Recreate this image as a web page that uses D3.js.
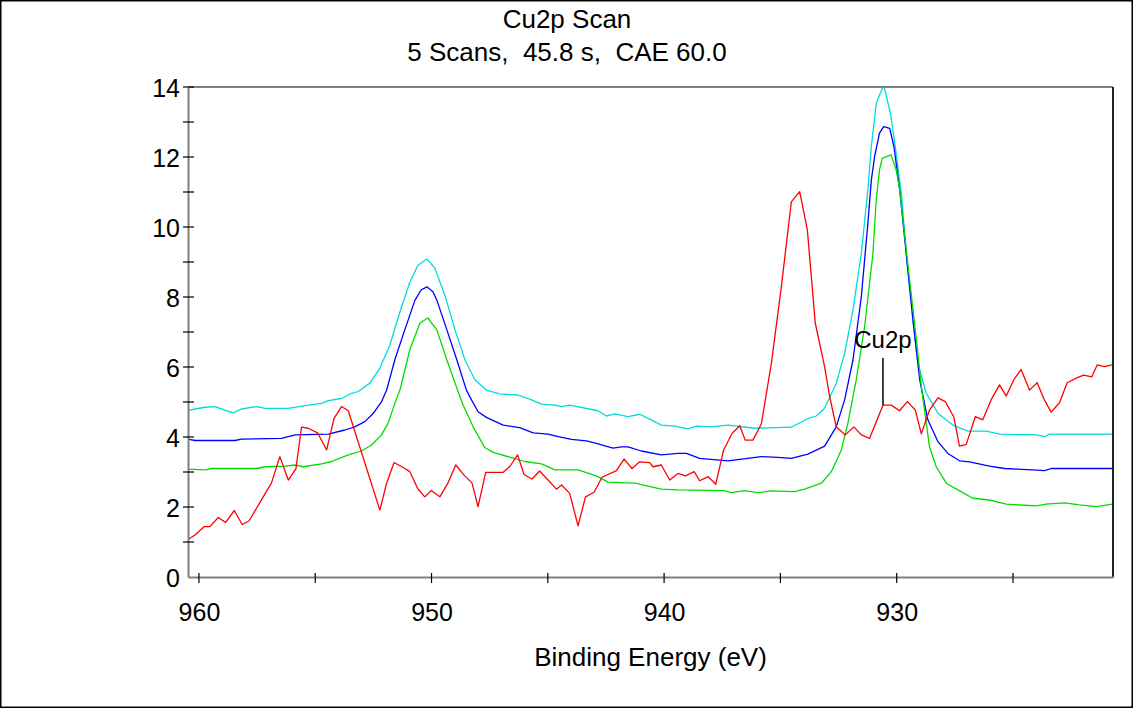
<!DOCTYPE html>
<html><head><meta charset="utf-8">
<script src="https://cdn.jsdelivr.net/npm/d3@7"></script>
<style>
html,body{margin:0;padding:0;background:#fff;}
svg text{font-family:"Liberation Sans",Arial,sans-serif;fill:#000;white-space:pre;}
</style></head>
<body>
<svg id="chart" width="1133" height="708"></svg>
<script>
// ---------- data ----------
const titleText = "Cu2p Scan";
const subtitleText = "5 Scans,  45.8 s,  CAE 60.0";
const xLabel = "Binding Energy (eV)";
const xMajorTicks = [960, 950, 940, 930];
const xMinorTicks = [955, 945, 935, 925];
const yMajorTicks = [0, 2, 4, 6, 8, 10, 12, 14];
const yMinorTicks = [1, 3, 5, 7, 9, 11, 13];
const peakLabel = {text: "Cu2p", energy: 930.59, markTop: 6.26, markBottom: 4.91};

const cyanE = [960.49,960.17,959.74,959.31,958.88,958.53,958.17,957.52,957.16,956.16,955.30,954.73,954.44,953.87,953.51,953.15,952.65,952.22,951.79,951.36,950.93,950.59,950.20,949.86,949.43,948.99,948.56,948.13,947.64,947.07,946.28,945.70,945.27,944.70,944.41,944.06,942.84,942.48,942.12,941.55,941.05,940.62,940.12,939.54,938.97,938.61,937.97,937.25,936.11,934.53,933.82,933.46,933.10,932.60,932.24,931.88,931.52,931.24,931.09,930.88,930.56,930.27,930.02,929.80,929.57,929.30,929.09,928.73,928.23,927.59,926.94,926.15,925.58,924.00,923.64,923.43,920.72];
const cyanV = [4.75,4.80,4.85,4.87,4.77,4.69,4.80,4.87,4.82,4.82,4.91,4.96,5.04,5.10,5.23,5.30,5.54,5.97,6.63,7.57,8.43,8.90,9.09,8.83,8.06,7.06,6.20,5.63,5.34,5.23,5.20,5.06,4.94,4.91,4.87,4.91,4.75,4.60,4.66,4.58,4.65,4.51,4.34,4.31,4.23,4.31,4.29,4.34,4.25,4.28,4.53,4.60,4.82,5.53,6.39,7.63,9.25,11.06,12.30,13.53,14.06,13.25,12.10,10.96,9.10,7.34,6.10,5.25,4.68,4.34,4.17,4.17,4.08,4.06,4.01,4.08,4.08];

const blueE = [960.49,960.17,958.45,958.17,956.45,955.87,954.44,953.73,953.30,952.87,952.51,952.15,951.93,951.58,951.15,950.71,950.45,950.20,949.94,949.77,949.34,948.91,948.50,948.28,948.00,947.64,946.92,946.21,945.63,944.99,944.56,943.98,943.34,942.91,942.20,941.84,941.55,940.98,940.12,939.40,939.04,938.47,937.25,935.82,935.11,934.53,933.82,933.10,932.60,932.24,931.88,931.52,931.24,931.09,930.95,930.74,930.56,930.30,930.12,929.87,929.30,929.01,928.66,928.23,927.80,927.30,926.87,926.01,925.36,924.15,923.64,923.36,920.72];
const blueV = [3.94,3.90,3.90,3.94,3.96,4.06,4.08,4.20,4.29,4.44,4.67,5.01,5.34,6.20,7.06,7.91,8.20,8.29,8.15,7.91,7.06,6.20,5.34,5.06,4.72,4.56,4.34,4.27,4.12,4.08,4.01,3.93,3.89,3.82,3.68,3.72,3.72,3.60,3.49,3.53,3.53,3.39,3.32,3.44,3.42,3.39,3.51,3.74,4.29,5.06,6.20,8.01,10.10,11.34,12.01,12.68,12.87,12.82,12.30,11.06,7.34,5.63,4.49,3.87,3.53,3.32,3.29,3.17,3.10,3.06,3.04,3.10,3.10];

const greenE = [960.49,959.74,959.45,957.52,957.16,956.30,955.87,955.52,954.73,954.30,953.87,953.58,953.01,952.58,952.15,951.87,951.58,951.36,950.93,950.50,950.16,949.77,949.34,948.88,948.64,948.21,947.71,947.35,946.56,945.99,945.27,944.70,943.70,942.91,942.41,941.26,940.12,939.40,937.40,937.11,936.54,935.97,935.39,934.39,933.96,933.24,932.81,932.38,932.10,931.74,931.38,931.02,930.88,930.74,930.62,930.24,930.02,929.87,929.53,929.15,928.94,928.59,928.30,927.87,927.37,926.73,926.01,925.29,924.00,923.57,922.78,922.14,921.42,920.72];
const greenV = [3.08,3.06,3.10,3.10,3.15,3.17,3.20,3.15,3.23,3.30,3.41,3.49,3.60,3.77,4.06,4.39,4.96,5.34,6.50,7.25,7.40,7.06,6.20,5.34,4.91,4.29,3.70,3.56,3.41,3.30,3.23,3.06,3.06,2.89,2.71,2.68,2.51,2.49,2.47,2.41,2.47,2.41,2.46,2.44,2.51,2.68,3.01,3.63,4.39,5.63,7.15,9.25,10.77,11.63,11.96,12.06,11.63,11.06,9.00,6.77,5.44,3.72,3.15,2.68,2.49,2.25,2.20,2.08,2.03,2.08,2.12,2.06,2.01,2.08];

const redE = [960.49,960.17,959.77,959.53,959.17,958.85,958.48,958.14,957.85,956.88,956.52,956.16,955.83,955.59,955.30,954.90,954.51,954.19,953.87,953.58,952.22,951.93,951.61,951.22,950.93,950.59,950.29,950.01,949.64,949.29,948.96,948.60,948.26,948.00,947.67,946.92,946.64,946.30,946.02,945.68,945.35,944.99,944.63,944.41,944.06,943.70,943.38,943.01,942.67,942.05,941.72,941.38,941.05,940.62,940.48,940.12,939.76,939.40,939.08,938.71,938.47,938.11,937.78,937.44,937.08,936.75,936.51,936.18,935.82,935.39,934.96,934.53,934.17,933.84,933.50,933.10,932.88,932.60,932.21,931.84,931.52,931.17,930.59,930.23,929.88,929.54,929.20,928.94,928.59,928.23,927.91,927.55,927.30,927.01,926.62,926.30,925.94,925.58,925.29,924.97,924.65,924.29,923.96,923.65,923.36,923.00,922.67,922.28,921.96,921.61,921.38,921.07,920.75];
const redV = [1.06,1.20,1.44,1.44,1.70,1.56,1.90,1.50,1.60,2.69,3.44,2.77,3.09,4.28,4.25,4.12,3.63,4.53,4.87,4.75,1.91,2.68,3.27,3.13,3.01,2.52,2.29,2.47,2.29,2.69,3.20,2.91,2.69,2.01,2.99,2.99,3.15,3.49,2.93,2.80,3.03,2.77,2.51,2.63,2.39,1.46,2.29,2.42,2.85,3.04,3.37,3.10,3.29,3.27,3.15,3.20,2.77,2.96,2.89,3.01,2.75,2.87,2.65,3.63,4.10,4.32,3.91,3.91,4.37,6.10,8.29,10.72,11.01,9.91,7.25,6.01,5.15,4.29,4.06,4.29,4.06,3.96,4.91,4.91,4.75,5.01,4.77,4.09,4.77,5.12,5.01,4.58,3.74,3.79,4.58,4.49,5.06,5.49,5.17,5.63,5.93,5.34,5.55,5.06,4.71,4.98,5.55,5.68,5.77,5.72,6.06,6.01,6.06];

const seriesList = [
  {name: "cyan",  color: "#00dcdc", E: cyanE,  V: cyanV},
  {name: "blue",  color: "#0000ff", E: blueE,  V: blueV},
  {name: "green", color: "#00dc00", E: greenE, V: greenV},
  {name: "red",   color: "#ff0000", E: redE,   V: redV}
];

// ---------- layout ----------
const W = 1133, H = 708;
const plot = {left: 188, right: 1113, top: 87, bottom: 577};
const titleSize = 26, tickSize = 25;
const svg = d3.select("#chart");

const x = d3.scaleLinear().domain([960.47, 920.7]).range([plot.left, plot.right]);
const y = d3.scaleLinear().domain([0, 14]).range([plot.bottom, plot.top]);

// outer frame
svg.append("rect").attr("x", 0.75).attr("y", 0.75).attr("width", W - 1.5).attr("height", H - 1.5)
  .attr("fill", "#fff").attr("stroke", "#000").attr("stroke-width", 1.5);

// titles
svg.append("text").attr("x", 567).attr("y", 28).attr("text-anchor", "middle")
  .attr("font-size", titleSize).text(titleText);
svg.append("text").attr("x", 567).attr("y", 61).attr("text-anchor", "middle")
  .attr("font-size", titleSize).text(subtitleText);

// clip
svg.append("clipPath").attr("id", "clip").append("rect")
  .attr("x", plot.left).attr("y", plot.top).attr("width", plot.right - plot.left).attr("height", plot.bottom - plot.top);

// series
const line = d3.line().x(d => x(d[0])).y(d => y(d[1]));
const g = svg.append("g").attr("clip-path", "url(#clip)");
seriesList.forEach(s => {
  const pts = s.E.map((e, i) => [e, s.V[i]]);
  g.append("path").datum(pts).attr("d", line).attr("fill", "none")
    .attr("stroke", s.color).attr("stroke-width", 1.3).attr("stroke-linejoin", "round");
});

// plot frame
svg.append("line").attr("x1", plot.left).attr("x2", plot.right).attr("y1", plot.top).attr("y2", plot.top)
  .attr("stroke", "#808080").attr("stroke-width", 2);
svg.append("line").attr("x1", plot.right).attr("x2", plot.right).attr("y1", plot.top).attr("y2", plot.bottom)
  .attr("stroke", "#222").attr("stroke-width", 2);

// x axis
const xAxis = d3.axisBottom(x).tickValues(xMajorTicks).tickSize(0).tickPadding(0).tickFormat(d3.format("d"));
const gx = svg.append("g").attr("transform", `translate(0,${plot.bottom})`).call(xAxis);
gx.select(".domain").attr("stroke", "#808080").attr("stroke-width", 2);
gx.selectAll(".tick text").attr("font-size", tickSize).attr("font-family", "Liberation Sans, Arial, sans-serif")
  .attr("fill", "#000").attr("dy", 0).attr("y", 44);
const xAll = xMajorTicks.concat(xMinorTicks);
svg.append("g").selectAll("line").data(xAll).join("line")
  .attr("x1", d => x(d)).attr("x2", d => x(d)).attr("y1", plot.bottom - 4).attr("y2", plot.bottom + 6)
  .attr("stroke", "#000").attr("stroke-width", 1.2);

// y axis
const yAxis = d3.axisLeft(y).tickValues(yMajorTicks).tickSize(0).tickPadding(8).tickFormat(d3.format("d"));
const gy = svg.append("g").attr("transform", `translate(${plot.left},0)`).call(yAxis);
gy.select(".domain").attr("stroke", "#808080").attr("stroke-width", 2);
gy.selectAll(".tick text").attr("font-size", tickSize).attr("font-family", "Liberation Sans, Arial, sans-serif")
  .attr("fill", "#000").attr("dy", "0.36em");
const yAll = yMajorTicks.concat(yMinorTicks);
svg.append("g").selectAll("line").data(yAll.filter(v => v !== 0)).join("line")
  .attr("x1", plot.left - 5).attr("x2", plot.left + 6).attr("y1", d => y(d)).attr("y2", d => y(d))
  .attr("stroke", "#000").attr("stroke-width", 1.2);

// x axis title
svg.append("text").attr("x", (plot.left + plot.right) / 2).attr("y", 666).attr("text-anchor", "middle")
  .attr("font-size", titleSize).text(xLabel);

// peak annotation
svg.append("line").attr("x1", x(peakLabel.energy)).attr("x2", x(peakLabel.energy))
  .attr("y1", y(peakLabel.markTop)).attr("y2", y(peakLabel.markBottom))
  .attr("stroke", "#000").attr("stroke-width", 1.5);
svg.append("text").attr("x", x(peakLabel.energy)).attr("y", y(peakLabel.markTop) - 10)
  .attr("text-anchor", "middle").attr("font-size", 24).text(peakLabel.text);
</script>
</body></html>
